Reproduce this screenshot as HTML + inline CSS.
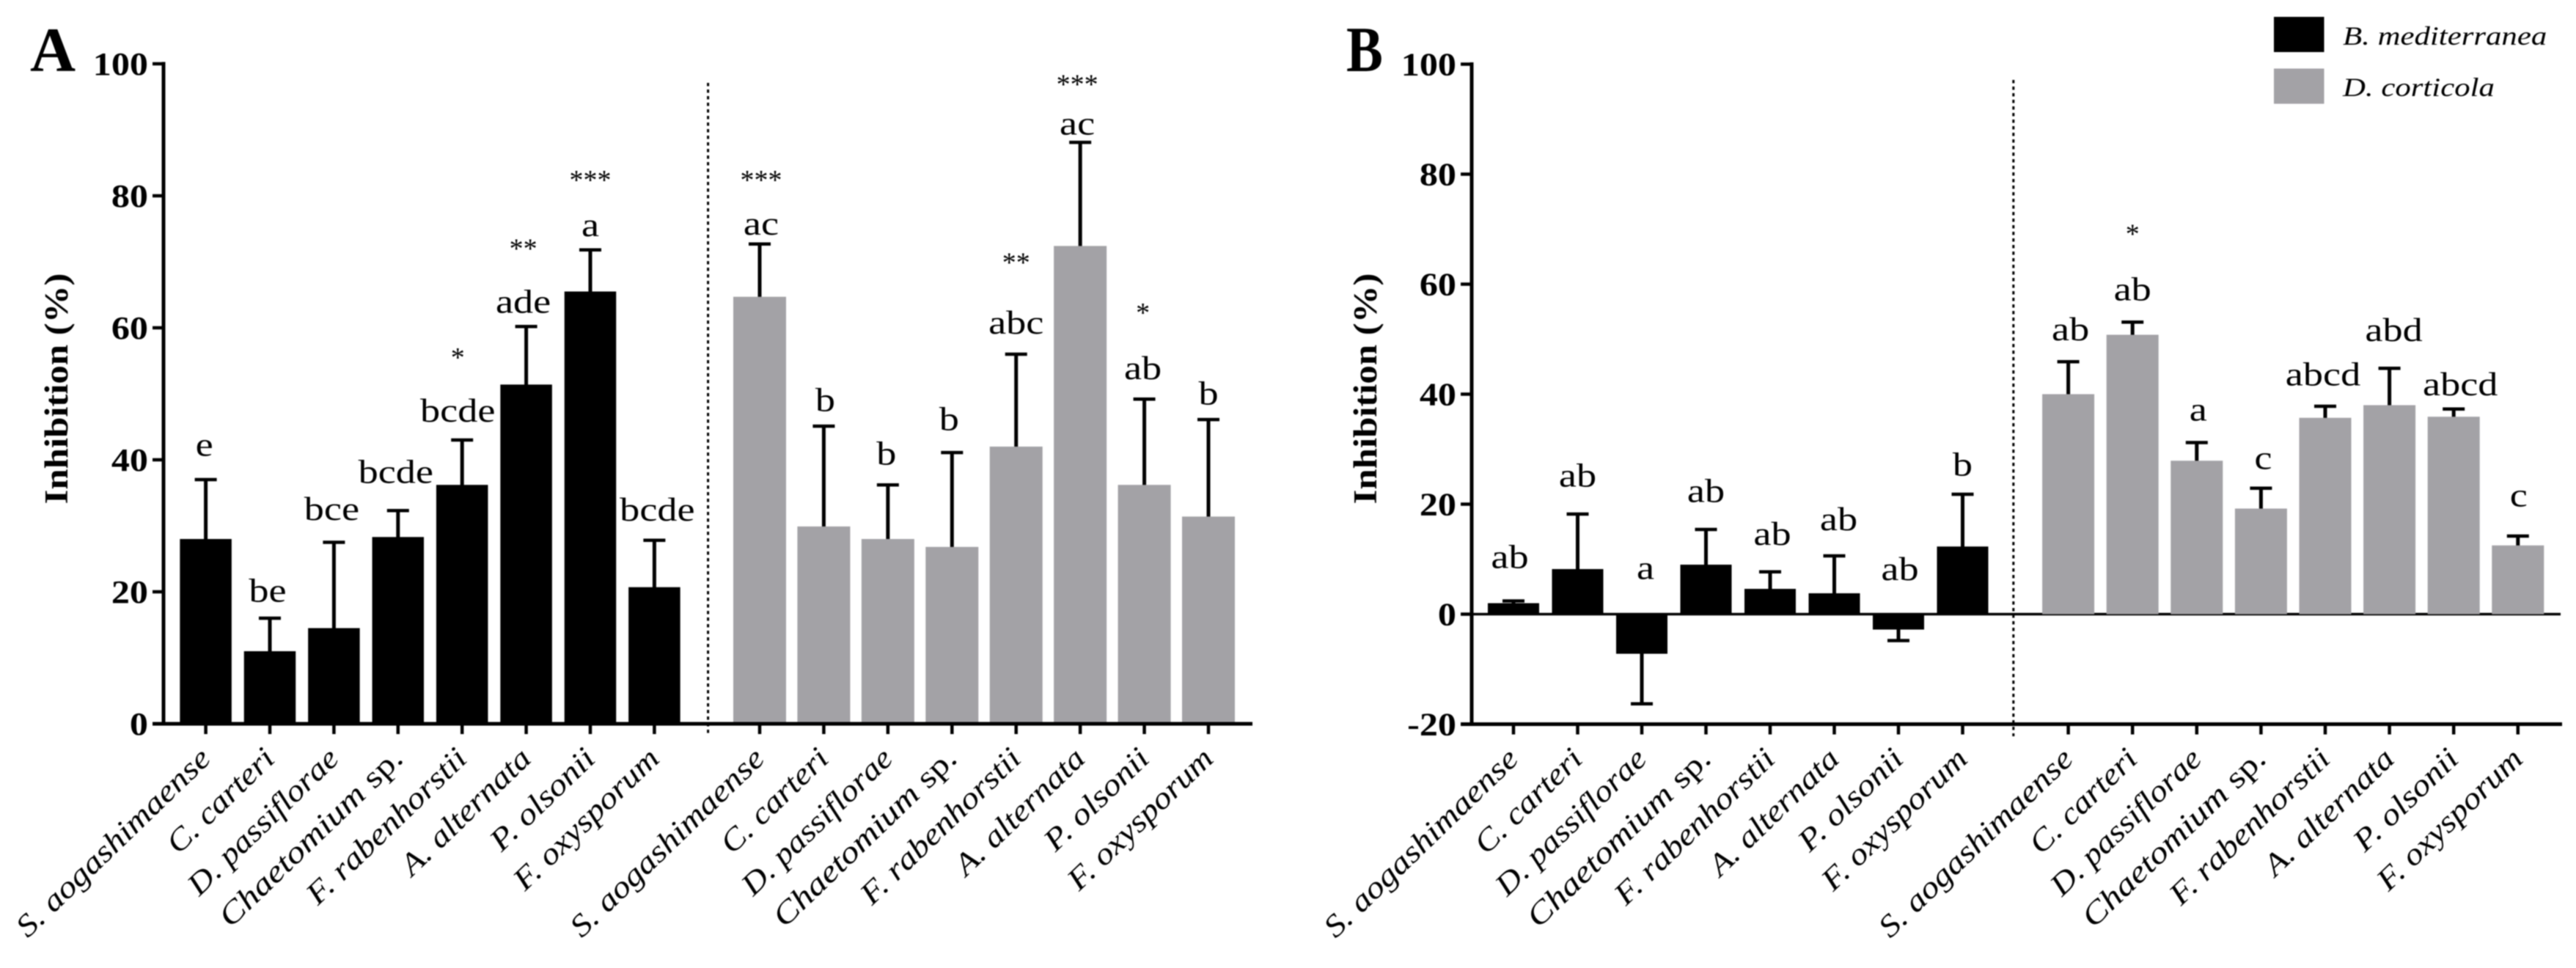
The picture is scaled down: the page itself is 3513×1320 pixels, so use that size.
<!DOCTYPE html>
<html lang="en">
<head>
<meta charset="utf-8">
<title>Inhibition chart</title>
<style>
html,body{margin:0;padding:0;background:#fff;width:3513px;height:1320px;overflow:hidden}
svg{display:block;font-family:"Liberation Serif","DejaVu Serif",serif;filter:blur(.7px)}
</style>
</head>
<body>
<svg id="figure" xmlns="http://www.w3.org/2000/svg" width="3513" height="1320" viewBox="0 0 3513 1320">
  <rect x="3101" y="23" width="68.5" height="48" fill="#000"/>
  <rect x="3101" y="93.500" width="68.5" height="48" fill="#a3a2a6"/>
  <text transform="translate(3195 61) scale(1.19 1)" font-size="36" font-style="italic">B. mediterranea</text>
  <text transform="translate(3195 131) scale(1.19 1)" font-size="36" font-style="italic">D. corticola</text>
</svg>
<script>
const categories = ["S. aogashimaense", "C. carteri", "D. passiflorae", "Chaetomium sp.", "F. rabenhorstii", "A. alternata", "P. olsonii", "F. oxysporum"];

const panelATicks = [0, 20, 40, 60, 80, 100];
const panelAMediterranea = [28, 11, 14.5, 28.3, 36.2, 51.4, 65.5, 20.7];
const panelAMediterraneaErr = [9, 5, 13, 4, 6.8, 8.8, 6.3, 7.1];
const panelACorticola = [64.7, 29.9, 28, 26.8, 42, 72.4, 36.2, 31.4];
const panelACorticolaErr = [8, 15.2, 8.2, 14.3, 14, 15.7, 13, 14.7];
const panelAMediterraneaLetters = ["e", "be", "bce", "bcde", "bcde", "ade", "a", "bcde"];
const panelACorticolaLetters = ["ac", "b", "b", "b", "abc", "ac", "ab", "b"];
const panelAMediterraneaStars = ["", "", "", "", "*", "**", "***", ""];
const panelACorticolaStars = ["***", "", "", "", "**", "***", "*", ""];
const panelAMediterraneaLift = [3.6, 2.5, 3.4, 4.2, 2.8, 2.1, 2.1, 3];
const panelACorticolaLift = [1.4, 2.3, 3.1, 3.4, 3.1, 1.2, 3, 2.3];
const panelAMediterraneaNudge = [-2, -3, -3, -3, -6, -4, 0, 4];
const panelACorticolaNudge = [2, 2, -2, -4, 0, -4, -2, 0];
const panelAMediterraneaStarLift = [0, 0, 0, 0, 9.9, 9.9, 8.7, 0];
const panelACorticolaStarLift = [8.5, 0, 0, 0, 11, 7.8, 10.3, 0];

const panelBTicks = [-20, 0, 20, 40, 60, 80, 100];
const panelBMediterranea = [2, 8.2, -7.2, 9, 4.6, 3.8, -2.8, 12.3];
const panelBMediterraneaErr = [0.4, 10, 9.1, 6.4, 3.1, 6.8, 2, 9.5];
const panelBCorticola = [40, 50.8, 27.9, 19.2, 35.7, 38, 35.9, 12.5];
const panelBCorticolaErr = [5.9, 2.3, 3.3, 3.7, 2.1, 6.7, 1.4, 1.7];
const panelBMediterraneaLetters = ["ab", "ab", "a", "ab", "ab", "ab", "ab", "b"];
const panelBCorticolaLetters = ["ab", "ab", "a", "c", "abcd", "abd", "abcd", "c"];
const panelBMediterraneaStars = ["", "", "", "", "", "", "", ""];
const panelBCorticolaStars = ["", "*", "", "", "", "", "", ""];
const panelBMediterraneaLift = [6, 5, 6.4, 5, 4.9, 4.7, 6.2, 3.4];
const panelBCorticolaLift = [3.9, 4, 4, 3.5, 3.8, 5, 2.5, 5.4];
const panelBMediterraneaNudge = [-5, 0, 5, 0, 3, 6, 2, 0];
const panelBCorticolaNudge = [3, 0, 2, 3, -3, 6, 9, 1];
const panelBMediterraneaStarLift = [0, 0, 0, 0, 0, 0, 0, 0];
const panelBCorticolaStarLift = [0, 12.3, 0, 0, 0, 0, 0, 0];

const svg = document.getElementById('figure');
const NS = 'http://www.w3.org/2000/svg';
const GREY = '#a3a2a6';
const LABEL_RUN = [350, 186, 268, 330, 286, 229, 181, 258];

function mk(parent, tag, attrs, name) {
  const el = document.createElementNS(NS, tag);
  for (const k in attrs) el.setAttribute(k, attrs[k]);
  
  
  parent.appendChild(el);
  return el;
}
function label(parent, x, y, str, size, name, o) {
  o = o || {};
  const rot = o.rot ? ' rotate(' + o.rot + ')' : '';
  const head = 'translate(' + x + ' ' + y + ')' + rot;
  const el = mk(parent, 'text', {
    transform: head + ' scale(' + (o.sx || 1) + ' 1)',
    'font-size': size,
    'text-anchor': o.anchor || 'middle',
    'font-weight': o.weight || 'normal',
    'font-style': o.style || 'normal'
  }, name);
  if (str.endsWith(' sp.')) {
    const a = document.createElementNS(NS, 'tspan');
    a.textContent = str.slice(0, -4);
    const b = document.createElementNS(NS, 'tspan');
    b.setAttribute('font-style', 'normal');
    b.textContent = ' sp.';
    el.appendChild(a);
    el.appendChild(b);
  } else {
    el.textContent = str;
  }
  if (o.run) {
    const natural = el.getComputedTextLength();
    el.setAttribute('transform', head + ' scale(' + (o.run / natural) + ' 1)');
  }
  return el;
}
function slug(s) {
  return s.toLowerCase().replace(/[^a-z]+/g, '-').replace(/-$/, '');
}

function drawPanel(p) {
  const g = mk(svg, 'g', {}, 'panel-' + p.id);
  const y = v => p.yZero - v * p.yScale;
  const xTop = y(100);
  const xBase = y(p.ticks[0]);

  label(g, p.letterX, 97, p.id.toUpperCase(), p.letterSize, 'panel-letter-' + p.id, {anchor: 'start', weight: 'bold', sx: p.letterSx});
  label(g, p.titleX, 530, 'Inhibition (%)', 45, 'y-axis-title-' + p.id, {rot: -90, weight: 'bold', run: 315});

  if (p.ticks[0] < 0) {
    mk(g, 'line', {x1: p.axisX, x2: p.zeroEnd, y1: y(0), y2: y(0), stroke: '#000', 'stroke-width': 3.5}, 'zero-line-' + p.id);
  }

  p.series.forEach((s) => {
    s.values.forEach((v, i) => {
      const cx = s.start + i * s.pitch;
      const top = Math.min(y(v), y(0));
      const h = Math.abs(y(v) - y(0));
      const sign = v >= 0 ? 1 : -1;
      const end = v + sign * s.err[i];
      const cat = slug(categories[i]);
      mk(g, 'line', {x1: cx, x2: cx, y1: y(v) + sign * 4, y2: y(end), stroke: '#000', 'stroke-width': 5}, 'error-stem-' + s.key + '-' + cat);
      mk(g, 'line', {x1: cx - 15, x2: cx + 15, y1: y(end), y2: y(end), stroke: '#000', 'stroke-width': 4.5}, 'error-cap-' + s.key + '-' + cat);
      mk(g, 'rect', {x: cx - s.width / 2, y: top, width: s.width, height: h, fill: s.color}, 'bar-' + s.key + '-' + cat);

      const base = Math.max(end, 0) + s.lift[i];
      const ly = y(base);
      label(g, cx + s.nudge[i], ly, s.letters[i], 46, 'significance-letters-' + s.key + '-' + cat, {sx: 1.18});
      if (s.stars[i]) {
        label(g, cx + s.nudge[i], y(base + s.starLift[i]) + 14.5, s.stars[i], 38, 'significance-stars-' + s.key + '-' + cat);
      }

      mk(g, 'line', {x1: cx, x2: cx, y1: xBase, y2: xBase + 14, stroke: '#000', 'stroke-width': 4.5}, 'x-tick-' + s.key + '-' + cat);
      label(g, cx + 9, xBase + 50, categories[i], 42, 'x-tick-label-' + s.key + '-' + cat, {anchor: 'end', rot: -44, style: 'italic', run: LABEL_RUN[i]});
    });
  });

  mk(g, 'line', {x1: p.axisX, x2: p.axisX, y1: xTop - 2.5, y2: xBase + 2.5, stroke: '#000', 'stroke-width': 5}, 'y-axis-' + p.id);
  mk(g, 'line', {x1: p.axisX - 15, x2: p.xEnd, y1: xBase, y2: xBase, stroke: '#000', 'stroke-width': 5}, 'x-axis-' + p.id);
  p.ticks.forEach(t => {
    mk(g, 'line', {x1: p.axisX - 15, x2: p.axisX, y1: y(t), y2: y(t), stroke: '#000', 'stroke-width': 4.5}, 'y-tick-' + p.id + '-' + t);
    label(g, p.axisX - 21, y(t) + 15, (t < 0 ? '-' : '') + Math.abs(t), 44, 'y-tick-label-' + p.id + '-' + t, {anchor: 'end', weight: 'bold', sx: 1.14});
  });
  mk(g, 'line', {x1: p.divX, x2: p.divX, y1: p.divTop, y2: 1004, stroke: '#000', 'stroke-width': 3, 'stroke-dasharray': '4.5 4.5'}, 'group-divider-' + p.id);
}

drawPanel({
  id: 'a', yZero: 987, yScale: 9, axisX: 223, xEnd: 1708, divX: 965.6, divTop: 113,
  ticks: panelATicks, letterX: 41, letterSize: 86, letterSx: 1, titleX: 92,
  series: [
    {key: 'b-mediterranea', start: 280.6, pitch: 87.4, width: 70.5, color: '#000',
     values: panelAMediterranea, err: panelAMediterraneaErr, letters: panelAMediterraneaLetters,
     stars: panelAMediterraneaStars, lift: panelAMediterraneaLift, nudge: panelAMediterraneaNudge, starLift: panelAMediterraneaStarLift},
    {key: 'd-corticola', start: 1036, pitch: 87.43, width: 72, color: GREY,
     values: panelACorticola, err: panelACorticolaErr, letters: panelACorticolaLetters,
     stars: panelACorticolaStars, lift: panelACorticolaLift, nudge: panelACorticolaNudge, starLift: panelACorticolaStarLift}
  ]
});
drawPanel({
  id: 'b', yZero: 837.5, yScale: 7.5, axisX: 2007, xEnd: 3494, zeroEnd: 3492, divX: 2745.8, divTop: 109,
  ticks: panelBTicks, letterX: 1836, letterSize: 88, letterSx: 0.85, titleX: 1877,
  series: [
    {key: 'b-mediterranea', start: 2064, pitch: 87.5, width: 70, color: '#000',
     values: panelBMediterranea, err: panelBMediterraneaErr, letters: panelBMediterraneaLetters,
     stars: panelBMediterraneaStars, lift: panelBMediterraneaLift, nudge: panelBMediterraneaNudge, starLift: panelBMediterraneaStarLift},
    {key: 'd-corticola', start: 2820.6, pitch: 87.6, width: 71, color: GREY,
     values: panelBCorticola, err: panelBCorticolaErr, letters: panelBCorticolaLetters,
     stars: panelBCorticolaStars, lift: panelBCorticolaLift, nudge: panelBCorticolaNudge, starLift: panelBCorticolaStarLift}
  ]
});
</script>
</body>
</html>
